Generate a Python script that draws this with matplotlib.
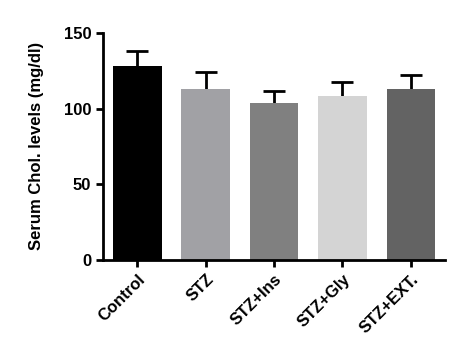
import matplotlib.pyplot as plt
import numpy as np

plt.rcParams['font.family'] = ['Liberation Sans', 'DejaVu Sans']
plt.rcParams['font.weight'] = 'bold'

groups = ["Control", "STZ", "STZ+Ins", "STZ+Gly", "STZ+EXT."]
means = [128, 113, 104, 108.5, 113]
errors = [10, 11.5, 7.5, 9, 9.3]
colors = ["#000000", "#a1a1a5", "#808080", "#d4d4d4", "#636363"]

fig = plt.figure(figsize=(4.56, 3.58), dpi=100)
ax = fig.add_axes([0.226, 0.274, 0.75, 0.634])

x = np.arange(len(groups))
tops = np.array(means) + np.array(errors)
# upper-only error bars: stem + cap marker
ax.errorbar(x, means, yerr=[np.zeros(len(errors)), errors], fmt="none",
            ecolor="black", elinewidth=2, capsize=0, zorder=1)
ax.plot(x, tops, ls="none", marker="_", markersize=16, mew=2, color="black", zorder=1)
ax.bar(x, means, width=0.71, color=colors, zorder=2)

ax.set_xlim(-0.5, 4.5)
ax.set_ylim(0, 150)
ax.set_yticks([0, 50, 100, 150])
ax.set_xticks(x)
ax.set_xticklabels(groups, rotation=45, ha="right", rotation_mode="anchor")
ax.set_ylabel("Serum Chol. levels (mg/dl)", fontsize=12, fontweight="bold", labelpad=14)

for side in ["top", "right"]:
    ax.spines[side].set_visible(False)
for side in ["left", "bottom"]:
    ax.spines[side].set_linewidth(2)
ax.tick_params(width=2, length=5, labelsize=12)

plt.savefig("out.png", dpi=100)
plt.close()
